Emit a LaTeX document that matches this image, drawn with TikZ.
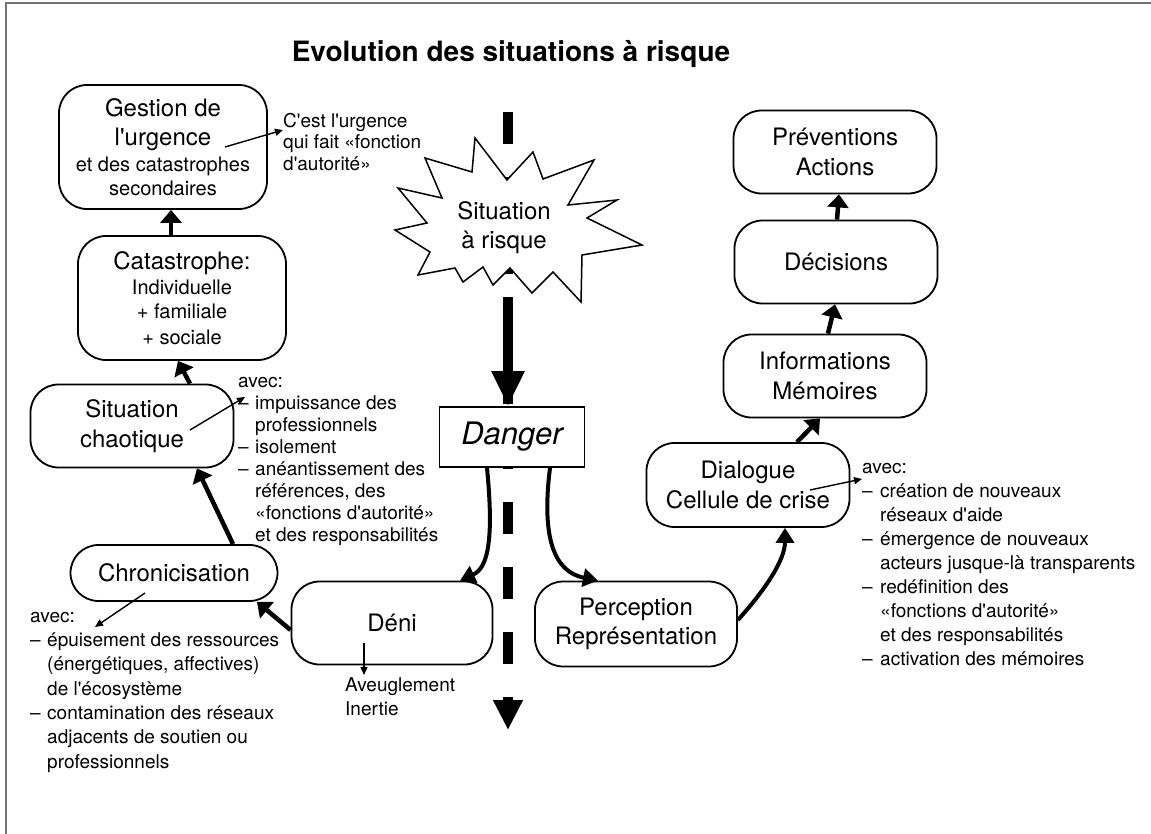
\documentclass[tikz,border=0pt]{standalone}
\usepackage{fontspec}
\setmainfont{TeX Gyre Heros}[Ligatures=TeXOff]
\usetikzlibrary{arrows.meta}

\begin{document}
\begin{tikzpicture}[x=1pt,y=-1pt,
  box/.style={draw,line width=1.8pt,rounded corners=28pt,fill=white,align=center,inner sep=0pt,
    minimum width=203pt,minimum height=83pt,font=\fontsize{24}{29.5}\selectfont},
  note/.style={inner sep=0pt,anchor=north west,align=left},
  link/.style={line width=4.5pt,-{Triangle[length=13pt,width=21pt]}},
  swoop/.style={line width=4pt,-{Triangle[length=15pt,width=18pt]}},
  pointer/.style={line width=1.4pt,-{Triangle[length=8pt,width=7pt]}}]
\useasboundingbox (0,0) rectangle (1151,834);
\draw[black!55,line width=1.5pt] (6,834) -- (6,3) -- (1151,3);

\node[anchor=base,font=\bfseries\fontsize{28}{32}\selectfont] (title) at (511,62) {Evolution des situations à risque};

% the axis of the danger
\coordinate (axtop) at (508,112);
\coordinate (axbot) at (508,730);
\draw[line width=10pt,dash pattern=on 32pt off 33pt,-{Triangle[length=30pt,width=28pt]}] (axtop) -- (axbot);

\draw[fill=white,line width=1.5pt] (475,138) -- (507,180) -- (533,152) -- (543,179) -- (594,160) -- (568,205)
  -- (617,200) -- (587,218) -- (642,245) -- (582,255) -- (581,302) -- (553,272) -- (532,293) -- (510,268)
  -- (493,285) -- (483,267) -- (463,282) -- (455,268) -- (418,275) -- (430,252) -- (395,230) -- (427,223)
  -- (398,188) -- (442,198) -- (425,158) -- (472,172) -- cycle;
\node[align=center,font=\fontsize{24}{29}\selectfont] (risk) at (504,228) {Situation\\à risque};
\coordinate (burst) at (508,297);

\node[draw,fill=white,line width=1.8pt,minimum width=145pt,minimum height=60pt,inner sep=0pt,
  font=\itshape\fontsize{31}{36}\selectfont] (danger) at (512,437) {Danger};
\draw[line width=10pt,-{Triangle[length=35pt,width=31pt]}] (burst) -- (burst |- danger.north);

% left side
\node[box,minimum width=208pt,minimum height=124pt] (gest) at (163,147)
  {Gestion de\\l'urgence\\[-3.5pt]{\fontsize{20}{25}\selectfont et des catastrophes}\\[-5.5pt]{\fontsize{20}{25}\selectfont secondaires}};
\node[box,minimum width=208pt,minimum height=124pt] (cata) at (182,298)
  {Catastrophe:\\[-5pt]{\fontsize{20}{25}\selectfont Individuelle}\\[-5pt]{\fontsize{20}{25}\selectfont + familiale}\\[-4pt]{\fontsize{20}{25}\selectfont + sociale}};
\node[box] (chao) at (132,426) {Situation\\chaotique};
\node[box,minimum width=207pt,minimum height=56pt] (chron) at (174,573) {Chronicisation};
\node[box,minimum width=201pt] (deni) at (392,623) {Déni};

% right side
\node[box,minimum width=202pt,minimum height=85pt] (percep) at (636,624) {Perception\\Représentation};
\node[box,minimum height=84pt] (dial) at (748,485) {Dialogue\\Cellule de crise};
\node[box] (info) at (825,376) {Informations\\Mémoires};
\node[box] (dec) at (836,262) {Décisions};
\node[box] (prev) at (835,152) {Préventions\\Actions};

% comments
\node[note,font=\fontsize{19}{21.5}\selectfont] (urgnote) at (283,113) {C'est l'urgence\\qui fait «fonction\\d'autorité»};
\node[note,font=\fontsize{19}{22}\selectfont] (chaonote) at (238,372) {\begin{tabular}{@{}p{17pt}@{}l@{}}
\multicolumn{2}{@{}l@{}}{avec:}\\
– & impuissance des\\
  & professionnels\\
– & isolement\\
– & anéantissement des\\
  & références, des\\
  & «fonctions d'autorité»\\
  & et des responsabilités
\end{tabular}};
\node[note,font=\fontsize{19}{24.3}\selectfont] (chronnote) at (30,605) {\begin{tabular}{@{}p{17pt}@{}l@{}}
\multicolumn{2}{@{}l@{}}{avec:}\\
– & épuisement des ressources\\
  & (énergétiques, affectives)\\
  & de l'écosystème\\
– & contamination des réseaux\\
  & adjacents de soutien ou\\
  & professionnels
\end{tabular}};
\node[note,font=\fontsize{19}{24}\selectfont] (deninote) at (345,677) {Aveuglement\\Inertie};
\node[note,font=\fontsize{19}{24}\selectfont] (dialnote) at (862,456) {\begin{tabular}{@{}p{18pt}@{}l@{}}
\multicolumn{2}{@{}l@{}}{avec:}\\
– & création de nouveaux\\
  & réseaux d'aide\\
– & émergence de nouveaux\\
  & acteurs jusque-là transparents\\
– & redéfinition des\\
  & «fonctions d'autorité»\\
  & et des responsabilités\\
– & activation des mémoires
\end{tabular}};

\draw[link] ([xshift=-11pt]cata.north) -- ([xshift=8pt]gest.south);
\draw[link] ([xshift=58pt]chao.north) -- ([xshift=-4pt]cata.south);
\draw[link] ([xshift=59pt]chron.north) -- ([xshift=65pt]chao.south);
\draw[link] ([yshift=-7pt]deni.west) -- ([xshift=83pt]chron.south);
\draw[link] ([xshift=49pt]dial.north) -- ([xshift=-5pt]info.south);
\draw[link] ([xshift=3pt]info.north) -- ([xshift=-1pt]dec.south);
\draw[link] ([xshift=1pt]dec.north) -- ([xshift=4pt]prev.south);

\draw[swoop] ([xshift=-25pt]danger.south) .. controls (494,540) and (488,568) .. ([xshift=68pt]deni.north);
\draw[swoop] ([xshift=38pt]danger.south) .. controls (541,540) and (555,572) .. ([xshift=-38pt]percep.north);
\draw[swoop] ([yshift=4pt]percep.east) .. controls (765,590) and (785,560) .. ([xshift=37pt]dial.south);

\draw[pointer] ([xshift=62pt]gest.center) -- ([yshift=-17pt]urgnote.north west);
\draw[pointer] ([xshift=58pt,yshift=-4pt]chao.center) -- ([xshift=7pt,yshift=-25pt]chaonote.north west);
\draw[pointer] ([xshift=-29pt,yshift=-20pt]chron.center) -- ([xshift=65pt,yshift=-22pt]chronnote.north west);
\draw[pointer] ([xshift=-28pt,yshift=-20pt]deni.center) -- ([xshift=19pt,yshift=2pt]deninote.north west);
\draw[pointer] ([xshift=62pt,yshift=-5pt]dial.center) -- ([yshift=-23pt]dialnote.north west);
\end{tikzpicture}
\end{document}
